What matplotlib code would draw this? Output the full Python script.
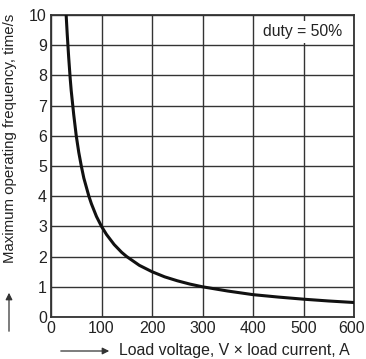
import numpy as np
import matplotlib.pyplot as plt
from matplotlib.patches import FancyArrowPatch
from matplotlib.transforms import ScaledTranslation

plt.rcParams['font.family'] = ['Liberation Sans', 'DejaVu Sans']

# values
load_va = [30, 32, 35, 38, 40, 45, 50, 55, 60, 65, 70, 75, 80, 90, 100, 110, 125,
           140, 150, 175, 200, 225, 250, 275, 300, 350, 400, 450, 500, 550, 600]
max_freq = [10, 9.4, 8.6, 7.9, 7.5, 6.7, 6.0, 5.45, 5.0, 4.6, 4.3, 4.0, 3.75, 3.33, 3.0,
            2.73, 2.4, 2.14, 2.0, 1.71, 1.5, 1.33, 1.2, 1.09, 1.0, 0.86, 0.74, 0.66,
            0.59, 0.53, 0.48]

x_ticks = [0, 100, 200, 300, 400, 500, 600]
y_ticks = [0, 1, 2, 3, 4, 5, 6, 7, 8, 9, 10]

fig = plt.figure(figsize=(3.66, 3.59), dpi=100)
ax = fig.add_axes([51 / 366, 1 - 317 / 359, 303 / 366, 302 / 359])

ax.plot(load_va, max_freq, color='#111111', lw=2.2, solid_joinstyle='round', zorder=3)

ax.set_xlim(0, 600)
ax.set_ylim(0, 10)
ax.set_xticks(x_ticks)
ax.set_yticks(y_ticks)
ax.tick_params(length=0, labelsize=11.5, pad=3, colors='#222222')
ax.grid(True, color='#333333', lw=1.0)
ax.set_axisbelow(True)
for s in ax.spines.values():
    s.set_color('#333333')
    s.set_linewidth(1.3)

# keep the last x label inside the figure
last = ax.get_xticklabels()[-1]
last.set_transform(last.get_transform() + ScaledTranslation(-2 / 100, 0, fig.dpi_scale_trans))

ax.text(0.96, 0.944, 'duty = 50%', transform=ax.transAxes, ha='right', va='center',
        fontsize=11.3, color='#222222', zorder=4,
        bbox=dict(facecolor='white', edgecolor='none', pad=2.5))

# axis labels with arrows
fig.text(10 / 366, 1 - 138 / 359, 'Maximum operating frequency, time/s', rotation=90,
         ha='center', va='center', fontsize=10.8, color='#222222')
fig.text(234 / 366, 1 - 351 / 359, 'Load voltage, V \u00d7 load current, A',
         ha='center', va='center', fontsize=11.4, color='#222222')
fig.add_artist(FancyArrowPatch(
    (9 / 366, 1 - 334 / 359), (9 / 366, 1 - 290 / 359), transform=fig.transFigure,
    arrowstyle='-|>', mutation_scale=10, color='#333333', lw=0.9))
fig.add_artist(FancyArrowPatch(
    (58 / 366, 1 - 351 / 359), (112 / 366, 1 - 351 / 359), transform=fig.transFigure,
    arrowstyle='-|>', mutation_scale=10, color='#333333', lw=0.9))

fig.savefig('out.png', dpi=100)
